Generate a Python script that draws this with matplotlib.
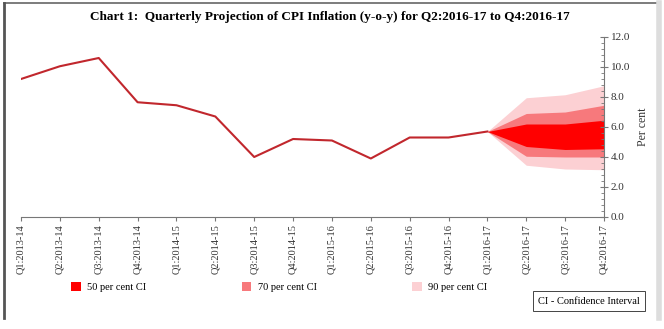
import matplotlib
matplotlib.use("Agg")
import matplotlib.pyplot as plt
from matplotlib.lines import Line2D
from matplotlib.patches import Patch
from matplotlib.ticker import MultipleLocator
import numpy as np

quarters = ["Q1:2013-14", "Q2:2013-14", "Q3:2013-14", "Q4:2013-14",
            "Q1:2014-15", "Q2:2014-15", "Q3:2014-15", "Q4:2014-15",
            "Q1:2015-16", "Q2:2015-16", "Q3:2015-16", "Q4:2015-16",
            "Q1:2016-17", "Q2:2016-17", "Q3:2016-17", "Q4:2016-17"]
cpi = [9.2, 10.05, 10.6, 7.65, 7.45, 6.7, 4.0, 5.2, 5.1, 3.9, 5.3, 5.3, 5.7]

# projection bands, starting at Q1:2016-17
fan_idx = [12, 13, 14, 15]
ci90_hi = [5.7, 7.95, 8.15, 8.75]
ci70_hi = [5.7, 6.9, 7.0, 7.45]
ci50_hi = [5.7, 6.2, 6.2, 6.45]
ci50_lo = [5.7, 4.7, 4.5, 4.55]
ci70_lo = [5.7, 4.05, 4.0, 4.0]
ci90_lo = [5.7, 3.45, 3.2, 3.15]

serif = "Liberation Serif"
c50 = "#ff0000"
c70 = "#f7797c"
c90 = "#fcd0d3"

fig = plt.figure(figsize=(6.64, 3.29), dpi=100)
ax = fig.add_axes([21/664, 1 - 217/329, 583/664, 180/329])

ax.fill_between(fan_idx, ci90_lo, ci90_hi, color=c90, lw=0)
ax.fill_between(fan_idx, ci70_lo, ci70_hi, color=c70, lw=0)
ax.fill_between(fan_idx, ci50_lo, ci50_hi, color=c50, lw=0)
ax.plot(range(len(cpi)), cpi, color="#c1272d", lw=1.5)

ax.set_xlim(0, 15)
ax.set_ylim(0, 12)
ax.set_xticks(range(len(quarters)))
ax.set_xticklabels(quarters, rotation=90, fontsize=7.5, family=serif, color="#333333")
ax.yaxis.tick_right()
ax.yaxis.set_label_position("right")
ax.yaxis.set_major_locator(MultipleLocator(2))
ax.yaxis.set_minor_locator(MultipleLocator(0.4))
ax.set_yticks(np.arange(0, 13, 2))
ax.set_yticklabels(["%.1f" % v for v in np.arange(0, 13, 2)], fontsize=8, family=serif, color="#333333")
ax.set_ylabel("Per cent", fontsize=8.5, family=serif, labelpad=5, color="#333333")

for s in ["top", "left"]:
    ax.spines[s].set_visible(False)
for s in ["bottom", "right"]:
    ax.spines[s].set_color("#777777")
    ax.spines[s].set_linewidth(0.8)
ax.tick_params(axis="x", length=3, color="#777777", pad=2)
ax.tick_params(axis="y", which="major", direction="inout", length=6, color="#777777", pad=2)
ax.tick_params(axis="y", which="minor", direction="in", length=2.5, color="#777777")

fig.text(0.497, 1 - 17/329, "Chart 1:  Quarterly Projection of CPI Inflation (y-o-y) for Q2:2016-17 to Q4:2016-17",
         ha="center", va="center", fontsize=9.5, fontweight="bold", family=serif)

handles = [Patch(facecolor=c50, edgecolor="none"),
           Patch(facecolor=c70, edgecolor="none"),
           Patch(facecolor=c90, edgecolor="none")]
labels = ["50 per cent CI", "70 per cent CI", "90 per cent CI"]
fig.legend(handles, labels, loc="center left", bbox_to_anchor=(62/664, 1 - 287/329),
           ncol=3, frameon=False, columnspacing=9.2, handlelength=0.9, handleheight=0.9,
           handletextpad=0.6, prop={"family": serif, "size": 7.5})

fig.text(589/664, 1 - 301/329, "CI - Confidence Interval", ha="center", va="center",
         fontsize=7.5, family=serif,
         bbox=dict(boxstyle="square,pad=0.5", facecolor="white", edgecolor="#444444", lw=0.7))

# outer frame
fig.add_artist(Line2D([4/664, 657/664], [1 - 3/329, 1 - 3/329], color="#666666", lw=1.2))
fig.add_artist(Line2D([4/664, 4/664], [1 - 3/329, 1 - 318/329], color="#555555", lw=2))
fig.add_artist(Line2D([659/664, 659/664], [1 - 3/329, 1 - 318/329], color="#dddddd", lw=4))

fig.savefig("out.png", dpi=100)
